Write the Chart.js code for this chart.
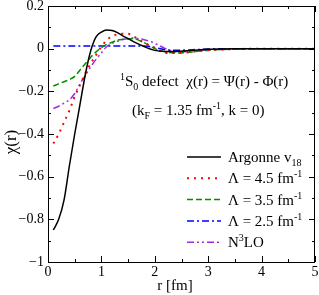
<!DOCTYPE html>
<html>
<head>
<meta charset="utf-8">
<script src="https://cdn.jsdelivr.net/npm/chart.js@4/dist/chart.umd.min.js"></script>
<style>
  html, body { margin: 0; padding: 0; background: #fff; }
  #wrap { width: 319px; height: 295px; }
</style>
</head>
<body>
<div id="wrap"><canvas id="chart" width="319" height="295"></canvas></div>
<script>
// r grid [fm]
const rValues = [0.1, 0.2, 0.3, 0.4, 0.5, 0.6, 0.7, 0.8, 0.9, 1.0, 1.1, 1.2, 1.3, 1.4, 1.5, 1.6, 1.8, 2.0, 2.2, 2.4, 2.6, 2.8, 3.0, 3.5, 4.0, 4.5, 5.0];

const argonne = [-0.85, -0.80, -0.71, -0.55, -0.40, -0.26, -0.12, -0.01, 0.055, 0.078, 0.088, 0.085, 0.075, 0.06, 0.047, 0.033, 0.01, -0.008, -0.013, -0.013, -0.01, -0.006, -0.003, 0, 0, 0, 0];
const lambda45 = [-0.445, -0.40, -0.345, -0.29, -0.225, -0.17, -0.115, -0.07, -0.03, 0.01, 0.04, 0.058, 0.067, 0.07, 0.07, 0.058, 0.028, 0.003, -0.02, -0.02, -0.017, -0.012, -0.007, -0.002, 0, 0, 0];
const lambda35 = [-0.175, -0.165, -0.155, -0.145, -0.13, -0.10, -0.07, -0.04, -0.015, 0.005, 0.02, 0.03, 0.04, 0.044, 0.046, 0.046, 0.028, 0.0, -0.015, -0.02, -0.018, -0.012, -0.007, -0.002, 0, 0, 0];
const lambda25 = [0.013, 0.013, 0.013, 0.013, 0.013, 0.013, 0.013, 0.013, 0.013, 0.013, 0.013, 0.013, 0.013, 0.013, 0.013, 0.013, 0.012, 0.005, -0.005, -0.008, -0.006, -0.004, -0.002, 0, 0, 0, 0];
const n3lo = [-0.28, -0.27, -0.255, -0.24, -0.21, -0.165, -0.125, -0.085, -0.05, -0.02, 0.01, 0.025, 0.035, 0.043, 0.048, 0.05, 0.042, 0.025, 0.0, -0.015, -0.015, -0.01, -0.006, -0.002, 0, 0, 0];

const xTicks = [0, 1, 2, 3, 4, 5];
const yTicks = [-1, -0.8, -0.6, -0.4, -0.2, 0, 0.2];

const serif = '"Liberation Serif", "DejaVu Serif", serif';

function pts(ys) {
  return rValues.map((r, i) => ({ x: r, y: ys[i] }));
}

const series = [
  { label: "Argonne", data: argonne, color: "#000000", dash: [], width: 1.5 },
  { label: "L45", data: lambda45, color: "#ff0000", dash: [2, 5], width: 2 },
  { label: "L35", data: lambda35, color: "#008f00", dash: [6, 3], width: 1.5 },
  { label: "L25", data: lambda25, color: "#0000ff", dash: [7, 3, 2, 3], width: 1.5 },
  { label: "N3LO", data: n3lo, color: "#9a2ee0", dash: [7, 3, 2, 3, 2, 3], width: 1.5 },
];

// draws a run of text pieces: [text, size, dy]
function drawRuns(ctx, x, y, runs) {
  let cx = x;
  runs.forEach(([t, size, dy]) => {
    ctx.font = size + "px " + serif;
    ctx.fillText(t, cx, y + dy);
    cx += ctx.measureText(t).width;
  });
  return cx;
}

const decor = {
  id: "decor",
  afterDraw(chart) {
    const { ctx, chartArea: a, scales } = chart;
    const xs = scales.x, ys = scales.y;
    ctx.save();
    ctx.strokeStyle = "#000";
    ctx.lineWidth = 1;
    ctx.setLineDash([]);
    ctx.strokeRect(a.left + 0.5, a.top + 0.5, a.right - a.left - 1, a.bottom - a.top);
    ctx.beginPath();
    for (let v = 0; v <= 5.001; v += 0.5) {
      const px = Math.round(xs.getPixelForValue(v)) + 0.5;
      const len = Math.abs(v - Math.round(v)) < 1e-6 ? 6 : 3;
      ctx.moveTo(px, a.bottom); ctx.lineTo(px, a.bottom - len);
      ctx.moveTo(px, a.top); ctx.lineTo(px, a.top + len);
    }
    for (let k = -10; k <= 2; k++) {
      const v = k / 10;
      const py = Math.round(ys.getPixelForValue(v)) + 0.5;
      const len = k % 2 === 0 ? 6 : 3;
      ctx.moveTo(a.left, py); ctx.lineTo(a.left + len, py);
      ctx.moveTo(a.right, py); ctx.lineTo(a.right - len, py);
    }
    ctx.stroke();

    ctx.fillStyle = "#000";
    ctx.textBaseline = "alphabetic";
    ctx.textAlign = "left";
    // annotation
    drawRuns(ctx, 120, 86, [["1", 10, -6], ["S", 15, 0], ["0", 10, 4], [" defect  \u03c7(r) = \u03a8(r) - \u03a6(r)", 15, 0]]);
    drawRuns(ctx, 132, 115, [["(k", 15, 0], ["F", 10, 4], [" = 1.35 fm", 15, 0], ["-1", 10, -6], [", k = 0)", 15, 0]]);

    // legend
    const rows = [
      [["Argonne v", 15, 0], ["18", 10, 4]],
      [["\u039b = 4.5 fm", 15, 0], ["-1", 10, -6]],
      [["\u039b = 3.5 fm", 15, 0], ["-1", 10, -6]],
      [["\u039b = 2.5 fm", 15, 0], ["-1", 10, -6]],
      [["N", 15, 0], ["3", 10, -6], ["LO", 15, 0]],
    ];
    rows.forEach((runs, i) => {
      const y = 157 + i * 21.3;
      const s = series[i];
      ctx.strokeStyle = s.color;
      ctx.lineWidth = s.width;
      ctx.setLineDash(s.dash);
      ctx.beginPath();
      ctx.moveTo(187, y); ctx.lineTo(221, y);
      ctx.stroke();
      ctx.setLineDash([]);
      ctx.fillStyle = "#000";
      drawRuns(ctx, 228, y + 5, runs);
    });

    // axis titles
    ctx.font = "15px " + serif;
    ctx.textAlign = "center";
    ctx.fillText("r [fm]", 175, 290);
    ctx.save();
    ctx.translate(16, 142);
    ctx.rotate(-Math.PI / 2);
    ctx.font = "17px " + serif;
    ctx.fillText("\u03c7(r)", 0, 0);
    ctx.restore();
    ctx.restore();
  },
};

new Chart(document.getElementById("chart").getContext("2d"), {
  type: "line",
  data: {
    datasets: series.map((s) => ({
      label: s.label,
      data: pts(s.data),
      borderColor: s.color,
      borderWidth: s.width,
      borderDash: s.dash,
      pointRadius: 0,
      fill: false,
      cubicInterpolationMode: "monotone",
    })),
  },
  options: {
    responsive: false,
    animation: false,
    layout: { padding: { top: 6, right: 4, left: 0, bottom: 0 } },
    plugins: { legend: { display: false }, tooltip: { enabled: false } },
    scales: {
      x: {
        type: "linear",
        min: 0,
        max: 5,
        afterFit: (s) => { s.height = 33; s.paddingLeft = 0; s.paddingRight = 0; },
        afterBuildTicks: (s) => { s.ticks = xTicks.map((v) => ({ value: v })); },
        grid: { display: false, drawTicks: false },
        border: { display: false },
        ticks: { color: "#000", padding: 2, font: { family: serif, size: 14 }, maxRotation: 0 },
      },
      y: {
        type: "linear",
        min: -1,
        max: 0.2,
        afterFit: (s) => { s.width = 48; s.paddingTop = 0; s.paddingBottom = 0; },
        afterBuildTicks: (s) => { s.ticks = yTicks.map((v) => ({ value: v })); },
        grid: { display: false, drawTicks: false },
        border: { display: false },
        ticks: {
          color: "#000",
          padding: 4,
          font: { family: serif, size: 14 },
          callback: (v) => (v === 0 ? "0" : v === -1 ? "\u22121" : (v < 0 ? "\u2212" : "") + Math.abs(v).toFixed(1)),
        },
      },
    },
  },
  plugins: [decor],
});
</script>
</body>
</html>
